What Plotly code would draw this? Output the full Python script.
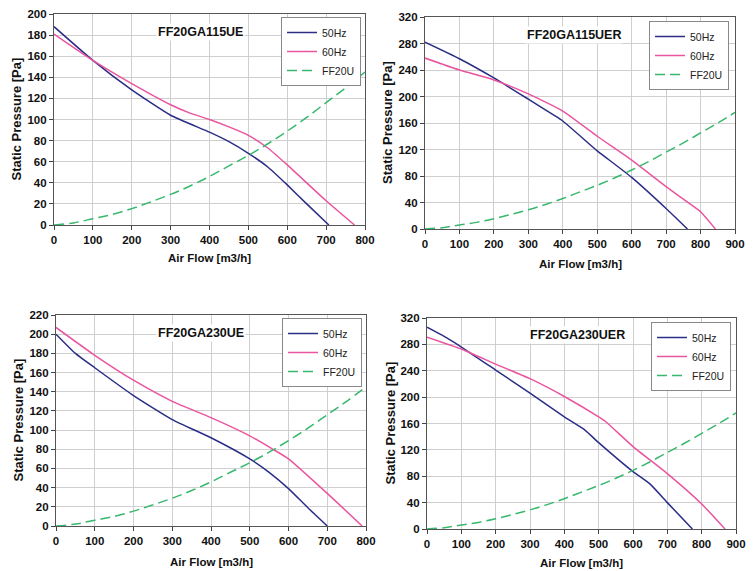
import plotly.graph_objects as go

# ---- data ----
titles = ["FF20GA115UE", "FF20GA115UER", "FF20GA230UE", "FF20GA230UER"]

ff20u_x = [0, 50, 100, 150, 200, 250, 300, 350, 400, 450, 500, 550, 600, 650, 700, 750, 800, 850, 900]
ff20u_y = [0, 2, 6, 10, 15.5, 22, 29, 37, 46, 56, 66, 77, 89, 102, 116, 130, 145, 160, 176]

p1_50_x = [0, 100, 200, 300, 400, 450, 500, 550, 600, 650, 707]
p1_50_y = [188, 156, 128, 104, 88, 79, 68, 55, 38, 20, 0]
p1_60_x = [0, 100, 200, 300, 350, 400, 450, 500, 550, 600, 700, 773]
p1_60_y = [181, 156, 134, 114, 106, 100, 93, 85, 73, 57, 23, 0]

p2_50_x = [0, 100, 200, 300, 380, 400, 500, 520, 600, 700, 762]
p2_50_y = [282, 257, 228, 196, 170, 163, 118, 110, 78, 31, 0]
p2_60_x = [0, 100, 200, 300, 400, 500, 600, 700, 750, 800, 843]
p2_60_y = [258, 240, 225, 204, 178, 140, 104, 64, 45, 26, 0]

p3_50_x = [0, 50, 100, 200, 300, 400, 500, 550, 600, 650, 700]
p3_50_y = [200, 180, 165, 136, 111, 92, 70, 56, 39, 19, 0]
p3_60_x = [0, 100, 200, 300, 400, 500, 560, 600, 700, 790]
p3_60_y = [207, 178, 152, 130, 113, 94, 80, 70, 34, 0]

p4_50_x = [0, 50, 100, 200, 300, 400, 460, 500, 600, 650, 700, 773]
p4_50_y = [306, 292, 276, 241, 206, 170, 150, 131, 87, 68, 40, 0]
p4_60_x = [0, 100, 200, 300, 400, 500, 520, 600, 700, 800, 868]
p4_60_y = [291, 273, 250, 228, 201, 170, 163, 125, 84, 38, 0]

x_max = [800, 900, 800, 900]
y_max = [200, 320, 220, 320]
y_step = [20, 40, 20, 40]
x_step = [100, 100, 100, 100]

series = [
    (p1_50_x, p1_50_y, p1_60_x, p1_60_y),
    (p2_50_x, p2_50_y, p2_60_x, p2_60_y),
    (p3_50_x, p3_50_y, p3_60_x, p3_60_y),
    (p4_50_x, p4_50_y, p4_60_x, p4_60_y),
]

# ---- layout geometry (pixels in 754x571) ----
W, H = 754, 571
plots = [  # left, right, top, bottom
    (54, 365, 14, 225),
    (425, 735, 17, 229),
    (56, 366, 315, 526),
    (427, 736, 318, 529),
]
legend_boxes = [  # right, top
    (361, 17), (729, 21), (362, 318), (731, 322)
]
title_pos = [(200, 32), (574, 35), (201, 333), (577, 335)]
ytitle_x = [16, 387, 18, 390]
xtitle_y = [258, 264, 562, 563]

C50 = "#2b2d86"
C60 = "#ea559f"
CFF = "#38b86d"
FONT = "Liberation Sans, Arial, sans-serif"

fig = go.Figure()

def px(x):
    return x / W

def py(y):
    return 1 - y / H

for i in range(4):
    n = "" if i == 0 else str(i + 1)
    xa, ya = "x" + n, "y" + n
    lg = "legend" + n
    x50, y50, x60, y60 = series[i]
    fig.add_trace(go.Scatter(x=x50, y=y50, mode="lines", name="50Hz",
                             line=dict(color=C50, width=1.5, shape="spline", smoothing=0.5),
                             xaxis=xa, yaxis=ya, legend=lg))
    fig.add_trace(go.Scatter(x=x60, y=y60, mode="lines", name="60Hz",
                             line=dict(color=C60, width=1.5, shape="spline", smoothing=0.5),
                             xaxis=xa, yaxis=ya, legend=lg))
    fx = [v for v in ff20u_x if v <= x_max[i]]
    fy = ff20u_y[:len(fx)]
    fig.add_trace(go.Scatter(x=fx, y=fy, mode="lines", name="FF20U",
                             line=dict(color=CFF, width=1.5, dash="10px,5px", shape="spline"),
                             xaxis=xa, yaxis=ya, legend=lg))

    l, r, t, b = plots[i]
    axis_common = dict(showgrid=True, gridcolor="#cfcfcf", gridwidth=1,
                       showline=True, linecolor="#555555", linewidth=1.2, mirror=True,
                       ticks="outside", ticklen=4, tickcolor="#444444",
                       tickfont=dict(family=FONT, size=11.5, color="#111111", weight="bold"),
                       zeroline=False, fixedrange=True, automargin=False)
    fig.layout["xaxis" + n] = dict(domain=[px(l), px(r)], range=[0, x_max[i]],
                                   dtick=x_step[i], tick0=0, anchor=ya, **axis_common)
    fig.layout["yaxis" + n] = dict(domain=[py(b), py(t)], range=[0, y_max[i]],
                                   dtick=y_step[i], tick0=0, anchor=xa, **axis_common)

    lx, ly = legend_boxes[i]
    fig.layout[lg] = dict(x=px(lx), y=py(ly), xanchor="right", yanchor="top",
                          xref="paper", yref="paper",
                          bgcolor="white", bordercolor="#888888", borderwidth=1,
                          font=dict(family=FONT, size=10.5, color="#222222"),
                          itemwidth=30, tracegroupgap=0)

    tx, ty = title_pos[i]
    fig.add_annotation(text="<b>" + titles[i] + "</b>", xref="paper", yref="paper",
                       x=px(tx), y=py(ty), xanchor="center", yanchor="middle",
                       showarrow=False,
                       font=dict(family=FONT, size=12.5, color="#111111"), bgcolor="white")
    fig.add_annotation(text="<b>Air Flow [m3/h]</b>", xref="paper", yref="paper",
                       x=px((l + r) / 2), y=py(xtitle_y[i]), showarrow=False,
                       xanchor="center", yanchor="middle",
                       font=dict(family=FONT, size=11.5, color="#111111"))
    fig.add_annotation(text="<b>Static Pressure [Pa]</b>", xref="paper", yref="paper",
                       x=px(ytitle_x[i]), y=py((t + b) / 2), showarrow=False,
                       textangle=-90, xanchor="center", yanchor="middle",
                       font=dict(family=FONT, size=13, color="#111111"))

fig.update_layout(width=W, height=H, margin=dict(l=0, r=0, t=0, b=0, autoexpand=False),
                  paper_bgcolor="white", plot_bgcolor="white", showlegend=True)

fig.write_html("out.html", config={"displayModeBar": False},
               post_script="document.body.style.margin='0';document.body.style.overflow='hidden';")
